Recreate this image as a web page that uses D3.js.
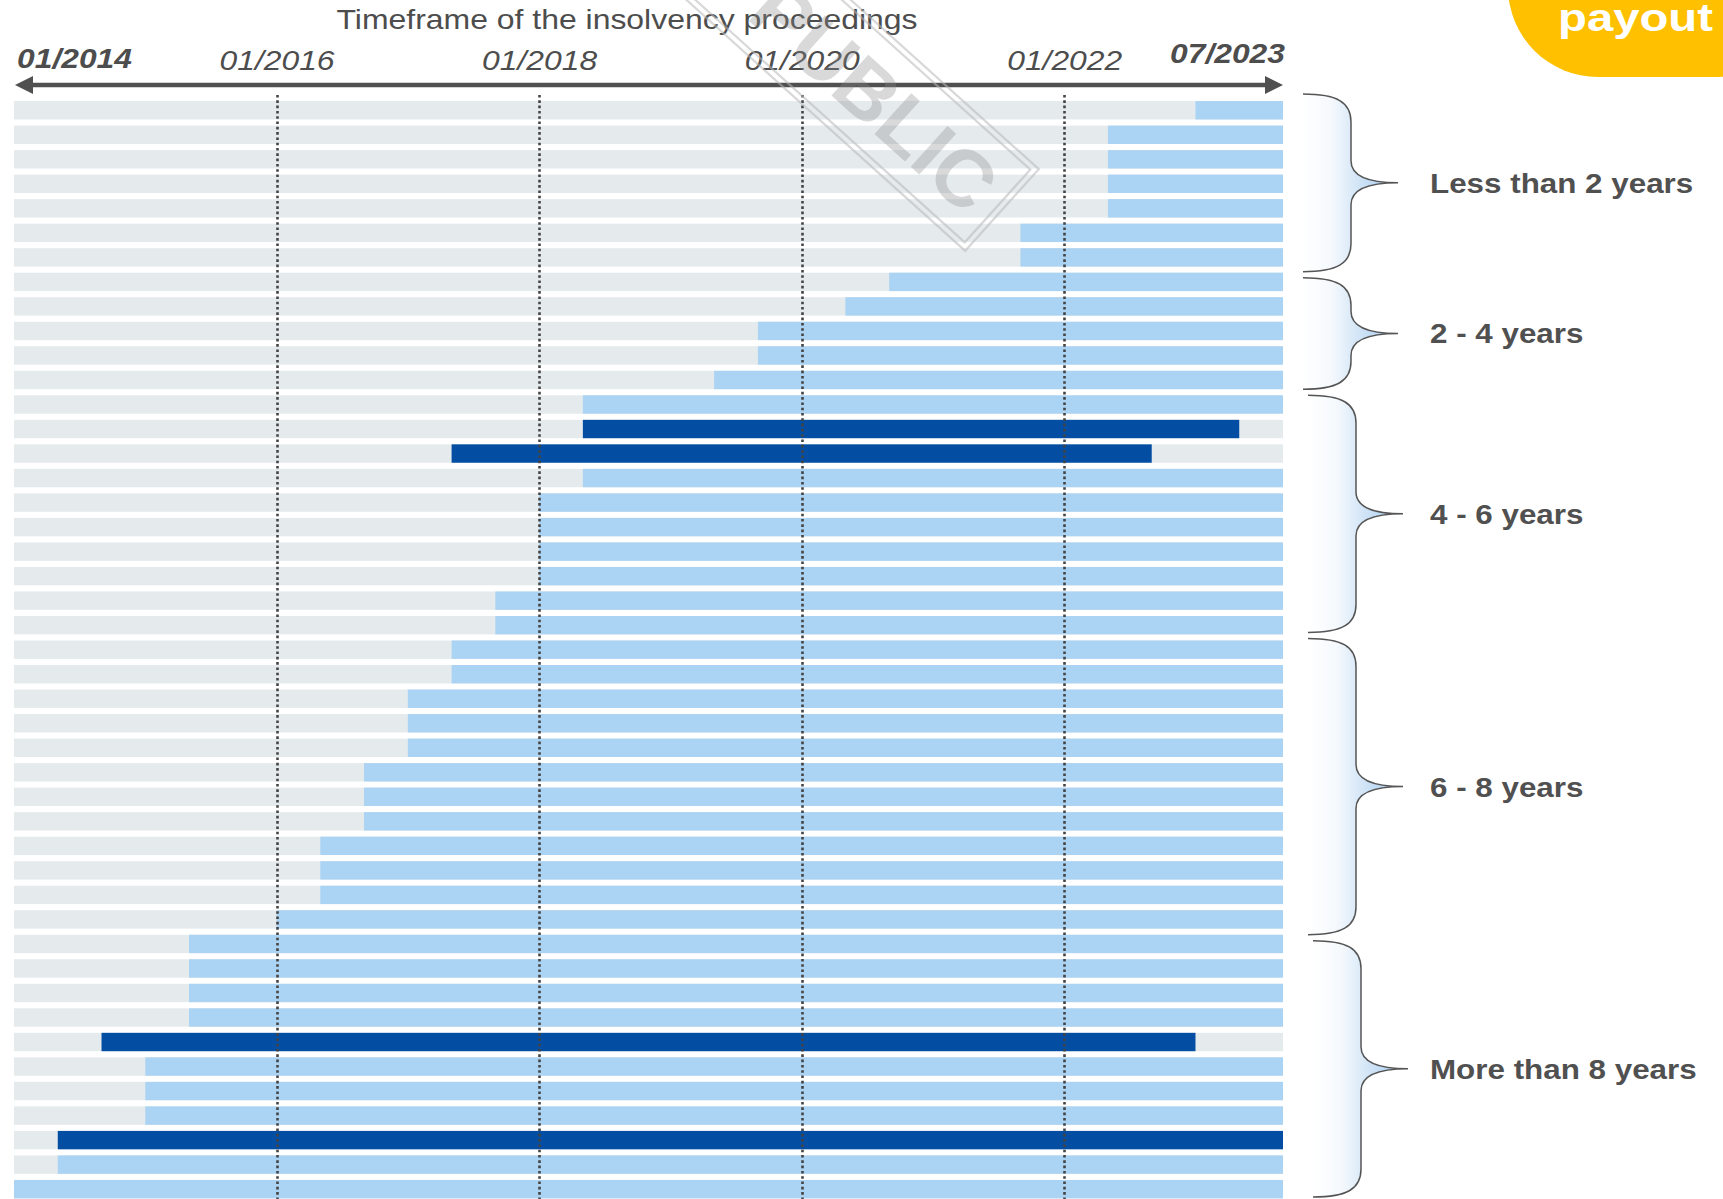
<!DOCTYPE html>
<html>
<head>
<meta charset="utf-8">
<script src="https://cdn.jsdelivr.net/npm/d3@7"></script>
<style>
  html, body { margin: 0; padding: 0; background: #fff; overflow: hidden; }
  svg { display: block; }
</style>
</head>
<body>
<svg id="chart" width="1723" height="1199"></svg>
<script>
// ---- data -------------------------------------------------------------
// Start of each insolvency proceeding (month/year), one per row, top to bottom
const startDates = [
  "01/2023", "05/2022", "05/2022", "05/2022", "05/2022", "09/2021", "09/2021",
  "09/2020", "05/2020", "09/2019", "09/2019", "05/2019",
  "05/2018", "05/2018", "05/2017", "05/2018", "01/2018", "01/2018", "01/2018", "01/2018",
  "09/2017", "09/2017",
  "05/2017", "05/2017", "01/2017", "01/2017", "01/2017", "09/2016", "09/2016", "09/2016",
  "05/2016", "05/2016", "05/2016", "01/2016",
  "05/2015", "05/2015", "05/2015", "05/2015", "09/2014", "01/2015", "01/2015", "01/2015",
  "05/2014", "05/2014", "01/2014"
];
// Proceedings that ended with a payout (1-based row) and when they ended
const payoutRows = [14, 15, 39, 43];
const payoutEnds = ["05/2023", "09/2022", "01/2023", "09/2023"];

// Time axis
const timelineStart = "01/2014";
const timelineEnd = "09/2023";
const gridTicks = ["01/2016", "01/2018", "01/2020", "01/2022"];
const axisEndLabels = ["01/2014", "07/2023"];
const axisTitle = "Timeframe of the insolvency proceedings";

// Duration groups (1-based first / last row)
const groupLabels = ["Less than 2 years", "2 - 4 years", "4 - 6 years", "6 - 8 years", "More than 8 years"];
const groupFirstRow = [1, 8, 13, 23, 35];
const groupLastRow = [7, 12, 22, 34, 45];

const legendLabel = "payout";
const watermarkText = "PUBLIC";

// ---- setup ------------------------------------------------------------
const toMonth = s => { const [m, y] = s.split("/").map(Number); return (y - 2014) * 12 + (m - 1); };

const svg = d3.select("#chart");
const W = 1723, H = 1199;
const font = "'Liberation Sans', Arial, Helvetica, sans-serif";
const textColor = "#4d4d4d";
const colTrack = "#e5eaed", colOpen = "#abd3f3", colPayout = "#034ea2";

const x = d3.scaleLinear()
  .domain([toMonth(timelineStart), toMonth(timelineEnd)])
  .range([14, 1283]);

const step = 24.52;
const y = d3.scaleBand()
  .domain(d3.range(startDates.length))
  .range([98, 98 + startDates.length * step])
  .paddingInner(0.25)
  .paddingOuter(0.125);

const rows = startDates.map((s, i) => {
  const p = payoutRows.indexOf(i + 1);
  return {
    i,
    start: toMonth(s),
    end: p >= 0 ? toMonth(payoutEnds[p]) : toMonth(timelineEnd),
    payout: p >= 0
  };
});

// ---- defs -------------------------------------------------------------
const defs = svg.append("defs");
const grad = defs.append("linearGradient").attr("id", "braceFill")
  .attr("x1", 0).attr("x2", 1).attr("y1", 0).attr("y2", 0);
[[0, "#ffffff"], [0.3, "#f5f9fd"], [0.55, "#d6e7f7"], [0.8, "#b8d6f3"], [1, "#9fc8ef"]]
  .forEach(([o, c]) => grad.append("stop").attr("offset", o).attr("stop-color", c));

// ---- bars -------------------------------------------------------------
const barsG = svg.append("g");
barsG.selectAll("rect.track").data(rows).join("rect")
  .attr("class", "track")
  .attr("x", x.range()[0])
  .attr("y", d => y(d.i))
  .attr("width", x.range()[1] - x.range()[0])
  .attr("height", y.bandwidth())
  .attr("fill", colTrack);

barsG.selectAll("rect.case").data(rows).join("rect")
  .attr("class", "case")
  .attr("x", d => x(d.start))
  .attr("y", d => y(d.i))
  .attr("width", d => x(d.end) - x(d.start))
  .attr("height", y.bandwidth())
  .attr("fill", d => d.payout ? colPayout : colOpen);

// ---- dotted grid lines ------------------------------------------------
svg.append("g").selectAll("line").data(gridTicks).join("line")
  .attr("x1", d => Math.round(x(toMonth(d))) + 0.5)
  .attr("x2", d => Math.round(x(toMonth(d))) + 0.5)
  .attr("y1", 95).attr("y2", H)
  .attr("stroke", "#444")
  .attr("stroke-width", 2.6)
  .attr("stroke-dasharray", "2.6 2.7");

// ---- time axis (double arrow) ----------------------------------------
const axisY = 85;
const [xa, xb] = x.range();
const axisG = svg.append("g");
axisG.append("line")
  .attr("x1", xa + 8).attr("x2", xb - 8)
  .attr("y1", axisY).attr("y2", axisY)
  .attr("stroke", "#505050").attr("stroke-width", 4.5);
axisG.append("path")
  .attr("d", `M${xa + 1},${axisY} L${xa + 19},${axisY - 9} L${xa + 19},${axisY + 9} Z`)
  .attr("fill", "#505050");
axisG.append("path")
  .attr("d", `M${xb},${axisY} L${xb - 18},${axisY - 9} L${xb - 18},${axisY + 9} Z`)
  .attr("fill", "#505050");

// tick labels via a d3 axis
const tickAxis = d3.axisTop(x)
  .tickValues(gridTicks.map(toMonth))
  .tickFormat((d, i) => gridTicks[i])
  .tickSize(0)
  .tickPadding(0);
const tickG = svg.append("g").attr("transform", `translate(0,${69.5})`).call(tickAxis);
tickG.select(".domain").remove();
tickG.selectAll("text")
  .attr("y", 0).attr("dy", 0)
  .attr("font-family", font)
  .attr("font-size", 28)
  .attr("font-style", "italic")
  .attr("fill", textColor)
  .attr("text-anchor", "middle")
  .attr("textLength", 115)
  .attr("lengthAdjust", "spacingAndGlyphs");

// bold end labels
svg.append("text")
  .attr("x", 17).attr("y", 68)
  .attr("font-family", font).attr("font-size", 28)
  .attr("font-style", "italic").attr("font-weight", "bold")
  .attr("fill", textColor)
  .attr("textLength", 115).attr("lengthAdjust", "spacingAndGlyphs")
  .text(axisEndLabels[0]);
svg.append("text")
  .attr("x", 1285).attr("y", 63)
  .attr("text-anchor", "end")
  .attr("font-family", font).attr("font-size", 28)
  .attr("font-style", "italic").attr("font-weight", "bold")
  .attr("fill", textColor)
  .attr("textLength", 115).attr("lengthAdjust", "spacingAndGlyphs")
  .text(axisEndLabels[1]);

// axis title
svg.append("text")
  .attr("x", 627).attr("y", 29)
  .attr("text-anchor", "middle")
  .attr("font-family", font).attr("font-size", 28)
  .attr("fill", textColor)
  .attr("textLength", 581).attr("lengthAdjust", "spacingAndGlyphs")
  .text(axisTitle);

// ---- group braces -----------------------------------------------------
function bracePath(x0, xs, xt, y0, y1, close) {
  const ym = (y0 + y1) / 2, r = 28, r2 = 22;
  let d = `M${x0},${y0} C${xs - 14},${y0} ${xs},${y0 + 8} ${xs},${y0 + r}`
    + ` L${xs},${ym - r2} C${xs},${ym - 8} ${xs + 14},${ym} ${xt},${ym}`
    + ` C${xs + 14},${ym} ${xs},${ym + 8} ${xs},${ym + r2}`
    + ` L${xs},${y1 - r} C${xs},${y1 - 8} ${xs - 14},${y1} ${x0},${y1}`;
  return close ? d + " Z" : d;
}
const braceShift = [0, 0, 5, 5, 10];
// nudge of each gap between neighbouring braces
const gapNudge = [5, 0, -2, 6];
const braceEdges = groupLabels.map((_, g) => {
  const first = groupFirstRow[g] - 1, last = groupLastRow[g] - 1;
  const top = g === 0 ? y(first) - 7
    : (y(first - 1) + y.bandwidth() + y(first)) / 2 + 3 + gapNudge[g - 1];
  const bottom = g === groupLabels.length - 1 ? H - 2
    : (y(last) + y.bandwidth() + y(last + 1)) / 2 - 3 + gapNudge[g];
  return { top, bottom };
});

const braceG = svg.append("g");
groupLabels.forEach((label, g) => {
  const s = braceShift[g];
  const x0 = 1303 + s, xs = 1351 + s, xt = 1398 + s;
  const { top, bottom } = braceEdges[g];
  braceG.append("path")
    .attr("d", bracePath(x0, xs, xt, top, bottom, true))
    .attr("fill", "url(#braceFill)");
  braceG.append("path")
    .attr("d", bracePath(x0, xs, xt, top, bottom, false))
    .attr("fill", "none")
    .attr("stroke", "#555")
    .attr("stroke-width", 1.5);
  const t = braceG.append("text")
    .attr("x", 1430)
    .attr("y", (top + bottom) / 2 + 10)
    .attr("font-family", font)
    .attr("font-size", 28)
    .attr("font-weight", "bold")
    .attr("fill", "#505050")
    .text(label);
  // the label face is set slightly wide
  const len = t.node().getComputedTextLength();
  t.attr("textLength", len * 1.12).attr("lengthAdjust", "spacingAndGlyphs");
});

// ---- legend badge -----------------------------------------------------
svg.append("rect")
  .attr("x", 1508).attr("y", -120)
  .attr("width", 300).attr("height", 197)
  .attr("rx", 90).attr("ry", 90)
  .attr("fill", "#ffc000");
svg.append("text")
  .attr("x", 1558).attr("y", 31)
  .attr("font-family", font).attr("font-size", 39)
  .attr("font-weight", "bold")
  .attr("fill", "#ffffff")
  .attr("textLength", 155).attr("lengthAdjust", "spacingAndGlyphs")
  .text(legendLabel);

// ---- classification watermark ----------------------------------------
const wm = svg.append("g")
  .attr("transform", "translate(1002,210) rotate(42)")
  .attr("pointer-events", "none");
wm.append("rect")
  .attr("x", -470).attr("y", -55).attr("width", 470).attr("height", 110)
  .attr("fill", "none").attr("stroke", "#b8b8b8").attr("stroke-opacity", 0.55)
  .attr("stroke-width", 2.2);
wm.append("rect")
  .attr("x", -464).attr("y", -49).attr("width", 458).attr("height", 98)
  .attr("fill", "none").attr("stroke", "#b8b8b8").attr("stroke-opacity", 0.55)
  .attr("stroke-width", 2.2);
wm.append("text")
  .attr("x", -22).attr("y", 29)
  .attr("text-anchor", "end")
  .attr("font-family", font).attr("font-size", 80)
  .attr("font-weight", "bold")
  .attr("fill", "#8a8a8a").attr("fill-opacity", 0.32)
  .text(watermarkText);
</script>
</body>
</html>
